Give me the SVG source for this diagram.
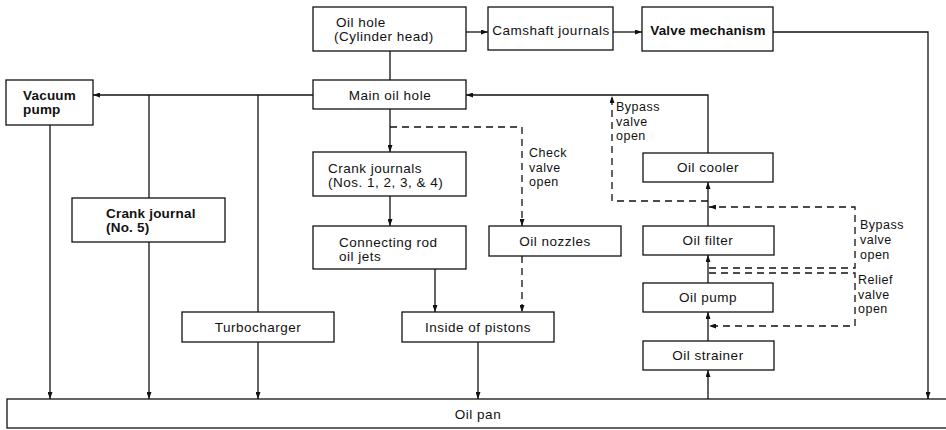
<svg xmlns="http://www.w3.org/2000/svg" width="946" height="430" viewBox="0 0 946 430">
  <style>
    .box { fill: #fff; stroke: #111; stroke-width: 1.3; }
    .ln { fill: none; stroke: #111; stroke-width: 1.3; }
    .dash { fill: none; stroke: #111; stroke-width: 1.3; stroke-dasharray: 7 5; }
    text { font-family: "Liberation Sans", Arial, Helvetica, sans-serif; font-size: 13.5px; letter-spacing: 0.5px; fill: #111; }
    .c { text-anchor: middle; }
    .b { font-weight: bold; letter-spacing: 0.2px; }
    .note { font-size: 12.5px; }
  </style>
  <defs>
    <marker id="arr" viewBox="0 0 7 5" refX="7" refY="2.5" markerWidth="7" markerHeight="5" markerUnits="userSpaceOnUse" orient="auto">
      <path d="M0,0 L7,2.5 L0,5 z" fill="#111"/>
    </marker>
  </defs>
  <rect width="946" height="430" fill="#fff"/>

  <!-- connectors -->
  <g id="connectors">
    <line class="ln" x1="466" y1="32" x2="488" y2="32" marker-end="url(#arr)"/>
    <line class="ln" x1="613" y1="32" x2="642" y2="32" marker-end="url(#arr)"/>
    <polyline class="ln" points="773,32 928,32 928,399" marker-end="url(#arr)"/>
    <line class="ln" x1="390" y1="51" x2="390" y2="80"/>
    <polyline class="ln" points="708,153 708,95 466,95" marker-end="url(#arr)"/>
    <line class="ln" x1="313" y1="95" x2="93" y2="95" marker-end="url(#arr)"/>
    <line class="ln" x1="50" y1="125" x2="50" y2="399" marker-end="url(#arr)"/>
    <line class="ln" x1="149" y1="95" x2="149" y2="198"/>
    <line class="ln" x1="149" y1="242" x2="149" y2="399" marker-end="url(#arr)"/>
    <line class="ln" x1="258" y1="95" x2="258" y2="312"/>
    <line class="ln" x1="258" y1="342" x2="258" y2="399" marker-end="url(#arr)"/>
    <line class="ln" x1="390" y1="109" x2="390" y2="152" marker-end="url(#arr)"/>
    <polyline class="dash" points="390,127 522,127 522,226" marker-end="url(#arr)"/>
    <line class="ln" x1="390" y1="196" x2="390" y2="226" marker-end="url(#arr)"/>
    <line class="ln" x1="435" y1="269" x2="435" y2="312" marker-end="url(#arr)"/>
    <line class="dash" x1="522" y1="256" x2="522" y2="312" marker-end="url(#arr)"/>
    <line class="ln" x1="478" y1="342" x2="478" y2="399" marker-end="url(#arr)"/>
    <line class="ln" x1="708" y1="399" x2="708" y2="370" marker-end="url(#arr)"/>
    <line class="ln" x1="708" y1="341" x2="708" y2="312" marker-end="url(#arr)"/>
    <line class="ln" x1="708" y1="283" x2="708" y2="255" marker-end="url(#arr)"/>
    <line class="ln" x1="708" y1="226" x2="708" y2="182" marker-end="url(#arr)"/>
    <polyline class="dash" points="708,201 612,201 612,96" marker-end="url(#arr)"/>
    <polyline class="dash" points="709,268 855,268 855,207 709,207" marker-end="url(#arr)"/>
    <polyline class="dash" points="709,273 855,273 855,326 709,326" marker-end="url(#arr)"/>
    <text class="note" x="616" y="111">Bypass</text>
    <text class="note" x="616" y="125.5">valve</text>
    <text class="note" x="616" y="140">open</text>
    <text class="note" x="529" y="157">Check</text>
    <text class="note" x="529" y="171.5">valve</text>
    <text class="note" x="529" y="186">open</text>
    <text class="note" x="860" y="229">Bypass</text>
    <text class="note" x="860" y="244">valve</text>
    <text class="note" x="860" y="259">open</text>
    <text class="note" x="858" y="284">Relief</text>
    <text class="note" x="858" y="298.5">valve</text>
    <text class="note" x="858" y="313">open</text>
  </g>

  <g id="oil-hole">
    <rect class="box" x="313" y="7" width="153" height="44"/>
    <text x="336" y="27">Oil hole</text>
    <text x="334" y="41">(Cylinder head)</text>
  </g>
  <g id="camshaft-journals">
    <rect class="box" x="488" y="7" width="125" height="43"/>
    <text class="c" x="551" y="35">Camshaft journals</text>
  </g>
  <g id="valve-mechanism">
    <rect class="box" x="642" y="7" width="131" height="44"/>
    <text class="c b" x="708" y="35">Valve mechanism</text>
  </g>
  <g id="vacuum-pump">
    <rect class="box" x="6" y="80" width="87" height="45"/>
    <text class="b" x="23" y="100">Vacuum</text>
    <text class="b" x="23" y="114">pump</text>
  </g>
  <g id="main-oil-hole">
    <rect class="box" x="313" y="80" width="153" height="29"/>
    <text class="c" x="390" y="100">Main oil hole</text>
  </g>
  <g id="crank-journals">
    <rect class="box" x="313" y="152" width="153" height="44"/>
    <text x="328" y="173">Crank journals</text>
    <text x="328" y="187">(Nos. 1, 2, 3, &amp; 4)</text>
  </g>
  <g id="crank-journal-5">
    <rect class="box" x="72" y="198" width="153" height="44"/>
    <text class="b" x="106" y="218">Crank journal</text>
    <text class="b" x="106" y="232">(No. 5)</text>
  </g>
  <g id="connecting-rod-oil-jets">
    <rect class="box" x="313" y="226" width="153" height="43"/>
    <text x="339" y="247">Connecting rod</text>
    <text x="339" y="261">oil jets</text>
  </g>
  <g id="oil-nozzles">
    <rect class="box" x="489" y="226" width="132" height="30"/>
    <text class="c" x="555" y="246">Oil nozzles</text>
  </g>
  <g id="turbocharger">
    <rect class="box" x="182" y="312" width="152" height="30"/>
    <text class="c" x="258" y="332">Turbocharger</text>
  </g>
  <g id="inside-of-pistons">
    <rect class="box" x="402" y="312" width="152" height="30"/>
    <text class="c" x="478" y="332">Inside of pistons</text>
  </g>
  <g id="oil-cooler">
    <rect class="box" x="643" y="153" width="130" height="29"/>
    <text class="c" x="708" y="172">Oil cooler</text>
  </g>
  <g id="oil-filter">
    <rect class="box" x="643" y="226" width="131" height="29"/>
    <text class="c" x="708" y="245">Oil filter</text>
  </g>
  <g id="oil-pump">
    <rect class="box" x="643" y="283" width="130" height="29"/>
    <text class="c" x="708" y="302">Oil pump</text>
  </g>
  <g id="oil-strainer">
    <rect class="box" x="643" y="341" width="131" height="29"/>
    <text class="c" x="708" y="360">Oil strainer</text>
  </g>
  <g id="oil-pan">
    <rect class="box" x="7" y="399" width="945" height="29"/>
    <text class="c" x="478" y="419">Oil pan</text>
  </g>
</svg>
